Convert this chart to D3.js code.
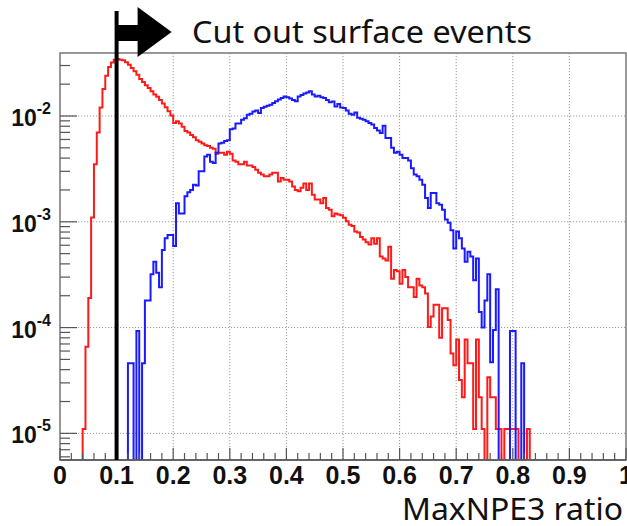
<!DOCTYPE html>
<html><head><meta charset="utf-8">
<script src="https://cdn.jsdelivr.net/npm/d3@7"></script>
<style>body{margin:0;background:#fff;} svg{display:block}</style>
</head><body>
<svg id="c" width="627" height="526"></svg>
<script>
// ---- data ----
const binWidth = 0.005;
const redFirstEdge = 0.040;
const redValues = [
 1.1e-5,6.6e-5,1.9e-4,1.1e-3,3.5e-3,7.0e-3,1.2e-2,1.8e-2,2.4e-2,2.9e-2,
 3.2e-2,3.4e-2,3.45e-2,3.4e-2,3.36e-2,3.22e-2,3.05e-2,2.84e-2,2.65e-2,2.45e-2,
 2.24e-2,2.1e-2,1.95e-2,1.84e-2,1.71e-2,1.6e-2,1.52e-2,1.42e-2,1.31e-2,1.21e-2,
 1.11e-2,1.01e-2,8.6e-3,8.9e-3,8.5e-3,7.9e-3,7.2e-3,7.0e-3,6.6e-3,6.3e-3,
 5.9e-3,5.7e-3,5.5e-3,5.3e-3,5.2e-3,5.0e-3,4.9e-3,4.4e-3,4.5e-3,4.5e-3,
 4.3e-3,4.6e-3,4.4e-3,3.8e-3,3.7e-3,3.5e-3,3.5e-3,3.7e-3,3.4e-3,3.4e-3,
 3.3e-3,3.1e-3,2.9e-3,2.8e-3,2.7e-3,2.7e-3,2.8e-3,2.9e-3,2.9e-3,2.4e-3,
 2.6e-3,2.5e-3,2.5e-3,2.4e-3,2.15e-3,2.0e-3,1.94e-3,2.1e-3,2.3e-3,2.0e-3,
 2.3e-3,1.8e-3,1.62e-3,1.62e-3,1.5e-3,1.68e-3,1.35e-3,1.3e-3,1.13e-3,1.2e-3,
 1.17e-3,1.15e-3,1.09e-3,1.01e-3,9.4e-4,9.1e-4,8.1e-4,7.9e-4,7.2e-4,6.8e-4,
 6.4e-4,6.1e-4,7.0e-4,6.2e-4,7.0e-4,4.7e-4,4.5e-4,4.3e-4,5.8e-4,2.9e-4,
 3.5e-4,3.4e-4,2.6e-4,3.5e-4,3.0e-4,2.4e-4,2.4e-4,1.95e-4,2.9e-4,2.5e-4,
 2.4e-4,2.1e-4,1.01e-4,1.27e-4,1.64e-4,1.64e-4,8.0e-5,1.52e-4,1.52e-4,1.18e-4,
 5.7e-5,4.4e-5,7.7e-5,3.2e-5,2.2e-5,7.7e-5,4.6e-5,4.6e-5,1.1e-5,7.7e-5,
 2.2e-5,1.1e-5,0,3.4e-5,2.2e-5,2.2e-5,1.1e-5,1.1e-5,0,1.1e-5,
 1.1e-5,1.1e-5,1.1e-5,1.1e-5,0,0,0,1.1e-5
];
const blueFirstEdge = 0.120;
const blueValues = [
 4.6e-5,4.6e-5,0,9.3e-5,0,4.6e-5,1.8e-4,1.8e-4,3.2e-4,4.2e-4,
 3.3e-4,2.4e-4,5.4e-4,7.0e-4,7.5e-4,7.5e-4,5.9e-4,1.5e-3,1.2e-3,1.2e-3,
 1.74e-3,1.9e-3,2.0e-3,2.24e-3,2.2e-3,3.0e-3,3.0e-3,4.15e-3,4.3e-3,3.7e-3,
 3.6e-3,4.5e-3,5.5e-3,5.6e-3,5.8e-3,5.9e-3,7.5e-3,7.6e-3,8.5e-3,8.5e-3,
 9.2e-3,9.5e-3,1.03e-2,1.05e-2,1.1e-2,1.13e-2,1.07e-2,1.19e-2,1.22e-2,1.25e-2,
 1.28e-2,1.33e-2,1.38e-2,1.43e-2,1.48e-2,1.53e-2,1.5e-2,1.46e-2,1.42e-2,1.38e-2,
 1.53e-2,1.58e-2,1.63e-2,1.67e-2,1.71e-2,1.6e-2,1.53e-2,1.55e-2,1.5e-2,1.48e-2,
 1.42e-2,1.35e-2,1.37e-2,1.23e-2,1.3e-2,1.2e-2,1.19e-2,1.13e-2,1.05e-2,1.03e-2,
 1.08e-2,9.6e-3,9.4e-3,9.2e-3,8.9e-3,8.6e-3,8.3e-3,7.7e-3,7.3e-3,6.9e-3,
 8.1e-3,6.2e-3,6.2e-3,5.0e-3,4.5e-3,4.6e-3,4.3e-3,4.0e-3,4.0e-3,3.8e-3,
 3.2e-3,2.8e-3,2.7e-3,2.5e-3,2.24e-3,1.68e-3,1.35e-3,1.87e-3,1.87e-3,1.5e-3,
 1.45e-3,1.3e-3,1.05e-3,9.8e-4,8.3e-4,5.6e-4,8.1e-4,7.0e-4,5.6e-4,4.2e-4,
 5.2e-4,4.7e-4,2.8e-4,4.5e-4,1.4e-4,1.0e-4,1.8e-4,3.2e-4,4.7e-5,9.5e-5,
 2.3e-4,0,0,0,0,9.3e-5,9.3e-5,0,0,4.6e-5
];
const xTicks = [0,0.1,0.2,0.3,0.4,0.5,0.6,0.7,0.8,0.9,1];
const xTickLabels = ["0","0.1","0.2","0.3","0.4","0.5","0.6","0.7","0.8","0.9","1"];
const yDecades = [1e-2,1e-3,1e-4,1e-5];
const yTickExponents = ["-2","-3","-4","-5"];
const cutValue = 0.1;
const titleText = "Cut out surface events";
const xAxisTitle = "MaxNPE3 ratio";

// ---- layout ----
const L = 60, R = 626, T = 53, B = 460;
const svg = d3.select("#c");
const x = d3.scaleLinear().domain([0, 1]).range([L, R]);
const y = d3.scaleLog().domain([5.6e-6, 0.0394]).range([B, T]);

svg.append("defs").append("clipPath").attr("id","clip")
  .append("rect").attr("x",L).attr("y",T).attr("width",R-L).attr("height",B-T);

// grid
const grid = svg.append("g").attr("stroke","#9a9a9a").attr("stroke-width",1).attr("stroke-dasharray","1.2,1.8");
grid.selectAll("line.v").data(xTicks.filter(t=>t>0&&t<1)).join("line")
  .attr("x1",d=>x(d)).attr("x2",d=>x(d)).attr("y1",T).attr("y2",B);
grid.selectAll("line.h").data(yDecades).join("line")
  .attr("x1",L).attr("x2",R).attr("y1",d=>y(d)).attr("y2",d=>y(d));

// histograms
function histPoints(first, vals){
  const pts = [];
  const nBins = Math.round(1/binWidth);
  const firstBin = Math.round(first/binWidth);
  for (let i=0;i<nBins;i++){
    const k = i-firstBin;
    const v = (k>=0 && k<vals.length) ? vals[k] : 0;
    pts.push([i*binWidth, v]);
  }
  pts.push([1, pts[pts.length-1][1]]);
  return pts;
}
const yv = v => v>0 ? y(v) : B+2;
const line = d3.line().x(d=>x(d[0])).y(d=>yv(d[1])).curve(d3.curveStepAfter);
const hg = svg.append("g").attr("clip-path","url(#clip)");
hg.append("path").attr("d", line(histPoints(redFirstEdge, redValues)))
  .attr("fill","none").attr("stroke","#ff1a1a").attr("stroke-width",2);
hg.append("path").attr("d", line(histPoints(blueFirstEdge, blueValues)))
  .attr("fill","none").attr("stroke","#1a1aff").attr("stroke-width",2);

// frame
svg.append("rect").attr("x",L).attr("y",T).attr("width",R-L).attr("height",B-T)
  .attr("fill","none").attr("stroke","#777").attr("stroke-width",1.5);
svg.append("line").attr("x1",L).attr("x2",R).attr("y1",B).attr("y2",B).attr("stroke","#555").attr("stroke-width",1.5);

// x ticks
const xMinor = d3.range(0, 51).map(i => i*0.02);
svg.append("g").attr("stroke","#555").attr("stroke-width",1.2)
  .selectAll("line").data(xMinor).join("line")
  .attr("x1",d=>x(d)).attr("x2",d=>x(d))
  .attr("y1",B).attr("y2",(d,i)=> B - (i%5===0 ? 12 : 7));
svg.append("g").selectAll("text").data(xTicks).join("text")
  .attr("x",d=>x(d)).attr("y",484).attr("text-anchor","middle")
  .attr("font-family","'Liberation Sans', Arial, sans-serif").attr("font-weight","bold")
  .attr("font-size",25).attr("fill","#111").text((d,i)=>xTickLabels[i]);

// y ticks
const yMinor = [];
for (let e=-6;e<=-1;e++) for (let k=1;k<=9;k++){ const v=k*Math.pow(10,e); if (v>=5.6e-6 && v<=0.0394) yMinor.push([v,k]); }
svg.append("g").attr("stroke","#555").attr("stroke-width",1.2)
  .selectAll("line").data(yMinor).join("line")
  .attr("x1",L).attr("x2",d=> L + (d[1]===1 ? 17 : 10))
  .attr("y1",d=>y(d[0])).attr("y2",d=>y(d[0]));
const yl = svg.append("g").selectAll("text").data(yDecades).join("text")
  .attr("x",51).attr("y",d=>y(d)+10).attr("text-anchor","end")
  .attr("font-family","'Liberation Sans', Arial, sans-serif").attr("font-weight","bold")
  .attr("fill","#111");
yl.append("tspan").attr("font-size",23).text("10");
yl.append("tspan").attr("font-size",16).attr("dy",-12).text((d,i)=>yTickExponents[i]);

// cut line and arrow
const cx = x(cutValue);
svg.append("line").attr("x1",cx).attr("x2",cx).attr("y1",11).attr("y2",B)
  .attr("stroke","#000").attr("stroke-width",4);
svg.append("path").attr("fill","#000")
  .attr("d",`M${cx},25 H${cx+21} V7 L${cx+55},32 L${cx+21},57 V41 H${cx} Z`);

// texts
svg.append("text").attr("x",192).attr("y",43)
  .attr("font-family","'Noto Sans', sans-serif").attr("font-size",31).attr("fill","#111")
  .attr("textLength",340).attr("lengthAdjust","spacingAndGlyphs")
  .text(titleText);
svg.append("text").attr("x",402).attr("y",520)
  .attr("font-family","'Noto Sans', sans-serif").attr("font-size",30).attr("fill","#111")
  .attr("textLength",221).attr("lengthAdjust","spacingAndGlyphs")
  .text(xAxisTitle);
</script>
</body></html>
